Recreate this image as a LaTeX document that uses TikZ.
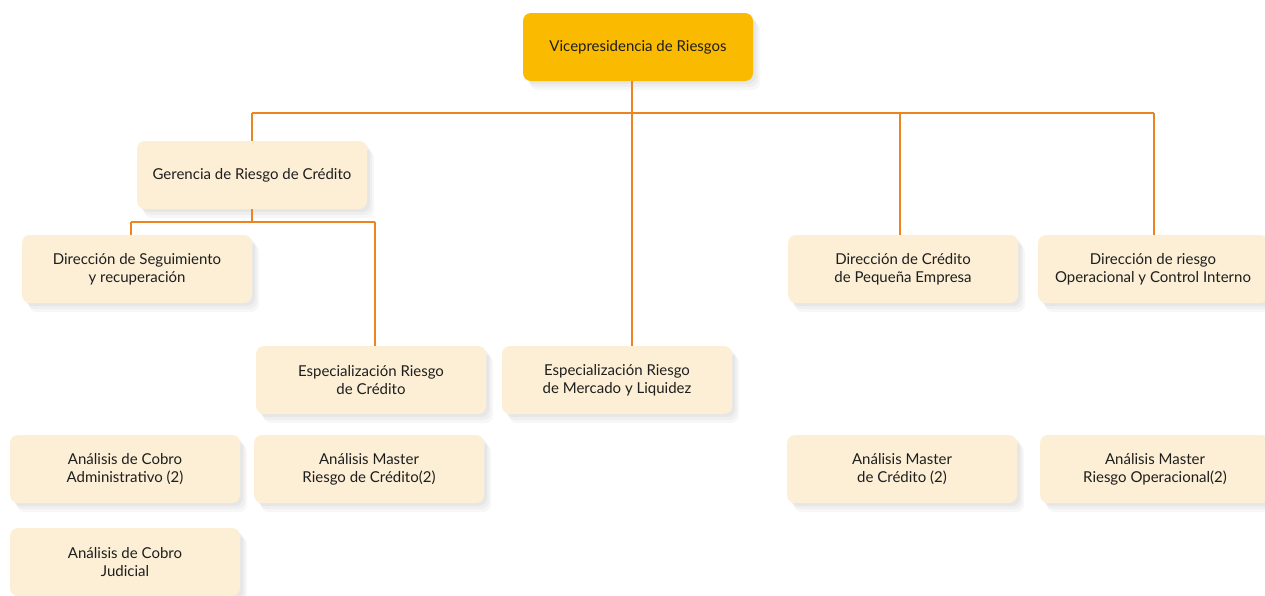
\documentclass[tikz,border=0pt]{standalone}
\usepackage{fontspec}
\setmainfont{Lato}
\usetikzlibrary{shadows}
\definecolor{boxfill}{HTML}{FDEFD6}
\definecolor{topfill}{HTML}{FABA00}
\definecolor{linecol}{HTML}{EE8420}
\definecolor{txt}{HTML}{1E1E1E}
\begin{document}
\begin{tikzpicture}[x=1pt,y=-1pt,
  box/.style={rectangle, rounded corners=8pt, fill=boxfill, minimum width=230pt, minimum height=68pt,
    align=center, font=\fontsize{15}{18}\selectfont, text=txt, inner sep=2pt,
    drop shadow={opacity=0.07, shadow xshift=3pt, shadow yshift=-3pt},
    drop shadow={opacity=0.07, shadow xshift=5pt, shadow yshift=-6pt},
    drop shadow={opacity=0.06, shadow xshift=7pt, shadow yshift=-9pt}},
  topbox/.style={box, fill=topfill},
  conn/.style={draw=linecol, line width=1.6pt}]
\useasboundingbox (0,0) rectangle (1265,595);
\fill[white] (0,0) rectangle (1265,595);

\node[topbox] (vice) at (638,47) {Vicepresidencia de Riesgos};
\node[box] (ger) at (252,175) {Gerencia de Riesgo de Crédito};
\node[box] (seg) at (137,269) {Dirección de Seguimiento\\y recuperación};
\node[box] (espc) at (371,380) {Especialización Riesgo\\de Crédito};
\node[box] (espm) at (617,380) {Especialización Riesgo\\de Mercado y Liquidez};
\node[box] (dpe) at (903,269) {Dirección de Crédito\\de Pequeña Empresa};
\node[box] (dop) at (1153,269) {Dirección de riesgo\\Operacional y Control Interno};
\node[box] (acadm) at (125,469) {Análisis de Cobro\\Administrativo (2)};
\node[box] (acjud) at (125,562) {Análisis de Cobro\\Judicial};
\node[box] (amrc) at (369,469) {Análisis Master\\Riesgo de Crédito(2)};
\node[box] (amc) at (902,469) {Análisis Master\\de Crédito (2)};
\node[box] (amro) at (1155,469) {Análisis Master\\Riesgo Operacional(2)};

\coordinate (c0) at (632,113);
\coordinate (cg) at (252,113);
\coordinate (cpe) at (900,113);
\coordinate (cop) at (1154,113);
\coordinate (g1) at (131,222);
\coordinate (g2) at (375,222);
\coordinate (g0) at (252,222);

\draw[conn] (vice.south -| c0) -- (espm.north -| c0);
\draw[conn] (cg) -- (cop);
\draw[conn] (cg) -- (ger.north -| cg);
\draw[conn] (cpe) -- (dpe.north -| cpe);
\draw[conn] (cop) -- (dop.north -| cop);
\draw[conn] (ger.south -| g0) -- (g0);
\draw[conn] (g1) -- (g2);
\draw[conn] (g1) -- (seg.north -| g1);
\draw[conn] (g2) -- (espc.north -| g2);
\end{tikzpicture}
\end{document}
